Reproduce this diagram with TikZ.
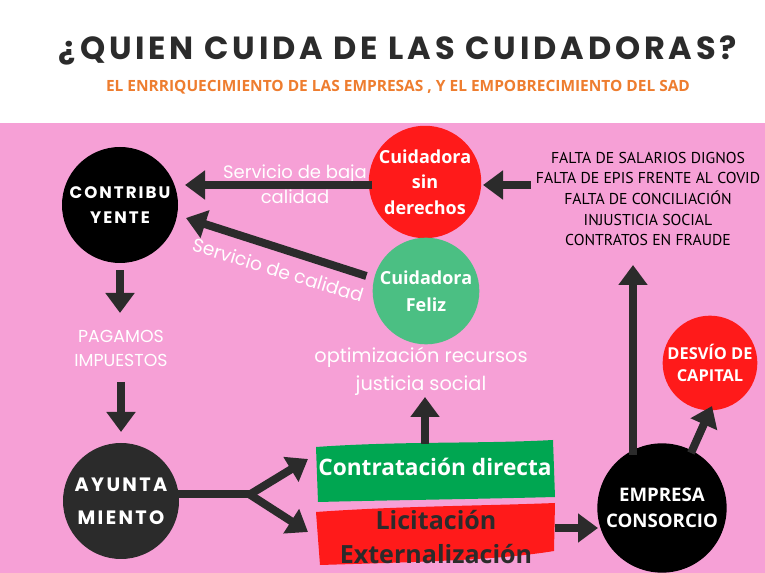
\documentclass[tikz,border=0pt]{standalone}
\usepackage{fontspec}
\usetikzlibrary{arrows.meta,calc}
\setmainfont{Open Sans}
\newfontfamily\pop{Poppins}
\newfontfamily\popsp[LetterSpace=12]{Poppins}
\newfontfamily\titlef[LetterSpace=12]{Poppins}
\newfontfamily\ptf{PT Sans}
\definecolor{pinkbg}{HTML}{F6A0D6}
\definecolor{darkc}{HTML}{2B2B2B}
\definecolor{redc}{HTML}{FF1A1A}
\definecolor{greenc}{HTML}{4BBF83}
\definecolor{greenr}{HTML}{00A651}
\definecolor{orangec}{HTML}{EE7D2F}
\tikzset{
  arr/.style={draw=darkc,line width=6pt,-{Triangle[width=21pt,length=15pt]}},
  bubble/.style={circle,inner sep=0pt,align=center,text=white},
  lbl/.style={text=white,align=center,inner sep=0pt},
}
\begin{document}
\begin{tikzpicture}[x=0.75pt,y=-0.75pt]
\useasboundingbox (0,0) rectangle (765,573);
\fill[white] (0,0) rectangle (765,573);
\fill[pinkbg] (0,123) rectangle (765,573);
% title
\node[inner sep=0pt,text=darkc,font={\titlef\bfseries\fontsize{24}{26}\selectfont}] (title) at (398,50) {¿QUIEN CUIDA DE LAS CUIDADORAS?};
\node[inner sep=0pt,text=orangec,font={\bfseries\fontsize{11.6}{13}\selectfont}] (sub) at (398,87) {EL ENRRIQUECIMIENTO DE LAS EMPRESAS , Y EL EMPOBRECIMIENTO DEL SAD};
% circles
\node[bubble,fill=black,minimum size=87pt,font={\popsp\bfseries\fontsize{12.5}{19}\selectfont}] (contrib) at (120,205) {CONTRIBU\\YENTE};
\node[bubble,fill=redc,minimum size=79pt,font={\bfseries\fontsize{13.5}{19}\selectfont}] (sin) at (425,182) {Cuidadora\\sin\\derechos};
\node[bubble,fill=greenc,minimum size=80pt,font={\bfseries\fontsize{13.5}{20}\selectfont}] (feliz) at (426,291) {Cuidadora\\Feliz};
\node[bubble,fill=darkc,minimum size=87pt,font={\popsp\bfseries\fontsize{14.5}{25}\selectfont}] (ayto) at (121,501) {AYUNTA\\MIENTO};
\node[bubble,fill=black,minimum size=97pt,font={\bfseries\fontsize{14}{20}\selectfont}] (emp) at (662,508) {EMPRESA\\CONSORCIO};
\node[bubble,fill=redc,minimum size=71pt,font={\bfseries\fontsize{12.3}{17}\selectfont}] (desvio) at (710,363) {DESVÍO DE\\CAPITAL};
% rectangles
\fill[greenr] (316,447) .. controls (400,441) and (480,444) .. (553,440) -- (555,497) .. controls (480,499) and (400,500) .. (318,502) -- cycle;
\node[lbl,font={\bfseries\fontsize{17}{20}\selectfont}] (contr) at (435,467) {Contratación directa};
\fill[redc] (316,512) .. controls (400,506) and (480,506) .. (555,503) -- (554,551) .. controls (500,560) and (420,562) .. (320,565) -- cycle;
\node[lbl,text=darkc,font={\bfseries\fontsize{18.8}{26}\selectfont}] (licit) at (436,537) {Licitación\\Externalización};
% labels
\node[lbl,font={\pop\fontsize{13.5}{19}\selectfont}] (baja) at (295,184) {Servicio de baja\\calidad};
\node[lbl,rotate=-17,font={\pop\fontsize{14}{18}\selectfont}] (cal) at (278,270) {Servicio de calidad};
\node[lbl,font={\pop\fontsize{13}{18}\selectfont}] (pag) at (121,348) {PAGAMOS\\IMPUESTOS};
\node[lbl,font={\pop\fontsize{14.5}{21}\selectfont}] (opt) at (421,371) {optimización recursos\\justicia social};
\node[inner sep=0pt,align=center,text=black,font={\ptf\fontsize{11.8}{15.4}\selectfont}] (falta) at (648,199) {FALTA DE SALARIOS DIGNOS\\FALTA DE EPIS FRENTE AL COVID\\FALTA DE CONCILIACIÓN\\INJUSTICIA SOCIAL\\CONTRATOS EN FRAUDE};
% coordinates
\coordinate (fork) at (252,494);
\coordinate (up1) at (308,459);
\coordinate (dn1) at (308,532);
% arrows
\draw[arr] (sin.west |- 0,185) ++(4,0) -- (185,185);
\draw[arr] ($(feliz.west)+(-6,-15)$) -- (186,218);
\draw[arr] (531,185) -- (483,185);
\draw[arr] (contrib.south) ++(0,7) -- (120,313);
\draw[arr] (121,382) -- (121,432);
\draw[draw=darkc,line width=6pt] (ayto.east |- fork) ++(-3,0) -- (fork);
\draw[arr] (fork) ++(-3,1) -- (up1);
\draw[arr] (fork) ++(-3,0) -- (dn1);
\draw[arr] (425,444) -- (425,397);
\draw[arr] (555,528) -- (598,528);
\draw[arr] (633,455) -- (633,265);
\draw[arr] (691,453) -- (712,406);
\end{tikzpicture}
\end{document}
